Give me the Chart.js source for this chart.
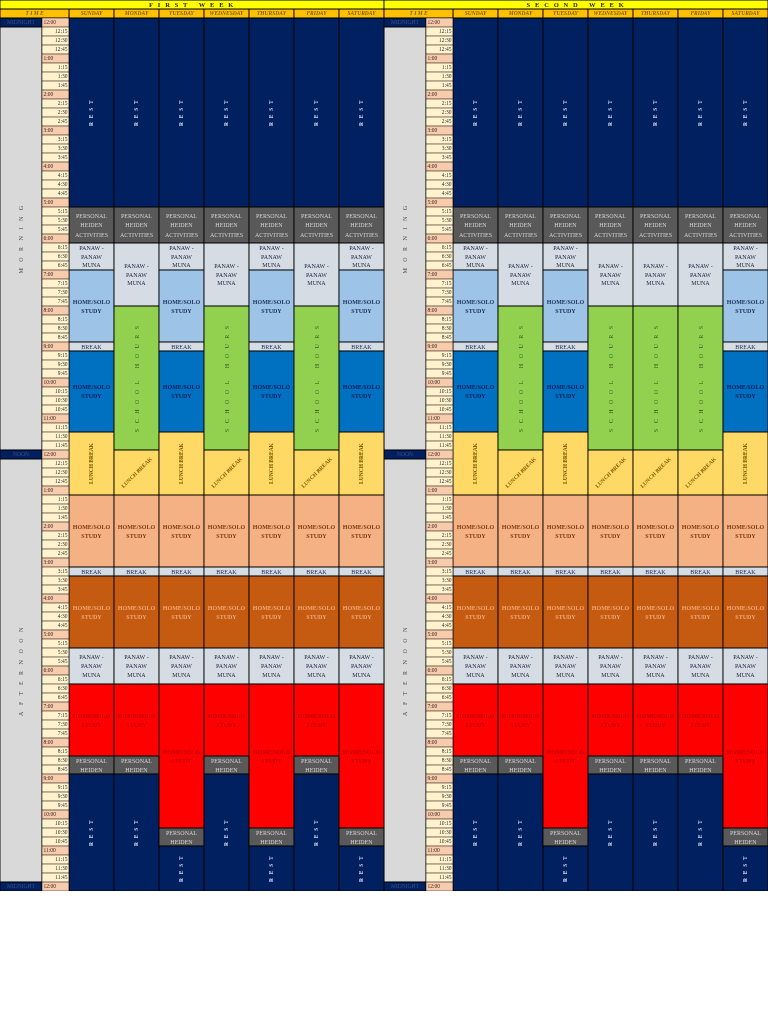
<!DOCTYPE html>
<html>
<head>
<meta charset="utf-8">
<script src="https://cdn.jsdelivr.net/npm/chart.js@4.4.0/dist/chart.umd.min.js"></script>
<style>
  html, body { margin: 0; padding: 0; background: #fff; }
  canvas { display: block; }
</style>
</head>
<body>
<canvas id="timetable" width="768" height="1024"></canvas>
<script>
const weeks = ['F I R S T   W E E K', 'S E C O N D   W E E K'];
const days = ['SUNDAY', 'MONDAY', 'TUESDAY', 'WEDNESDAY', 'THURSDAY', 'FRIDAY', 'SATURDAY'];
const timeLabels = [
  '12:00', '12:15', '12:30', '12:45', '1:00', '1:15', '1:30', '1:45', '2:00', '2:15', '2:30', '2:45',
  '3:00', '3:15', '3:30', '3:45', '4:00', '4:15', '4:30', '4:45', '5:00', '5:15', '5:30', '5:45',
  '6:00', '6:15', '6:30', '6:45', '7:00', '7:15', '7:30', '7:45', '8:00', '8:15', '8:30', '8:45',
  '9:00', '9:15', '9:30', '9:45', '10:00', '10:15', '10:30', '10:45', '11:00', '11:15', '11:30', '11:45',
  '12:00', '12:15', '12:30', '12:45', '1:00', '1:15', '1:30', '1:45', '2:00', '2:15', '2:30', '2:45',
  '3:00', '3:15', '3:30', '3:45', '4:00', '4:15', '4:30', '4:45', '5:00', '5:15', '5:30', '5:45',
  '6:00', '6:15', '6:30', '6:45', '7:00', '7:15', '7:30', '7:45', '8:00', '8:15', '8:30', '8:45',
  '9:00', '9:15', '9:30', '9:45', '10:00', '10:15', '10:30', '10:45', '11:00', '11:15', '11:30', '11:45',
  '12:00'
];

// blocks: [activity, first slot, last slot]  (slot 0 = 12:00 midnight, one slot = 15 min)
const morningHome = [['rest', 0, 20], ['personal', 21, 24], ['panaw', 25, 27], ['study1', 28, 35],
  ['brk', 36, 36], ['study2', 37, 45], ['lunch', 46, 52]];
const morningSchool = [['rest', 0, 20], ['personal', 21, 24], ['panaw', 25, 31], ['school', 32, 47],
  ['lunchTilt', 48, 52]];
const afternoon = [['study3', 53, 60], ['brk', 61, 61], ['study4', 62, 69], ['panaw', 70, 73]];
const eveningShort = [['study5', 74, 81], ['heiden', 82, 83], ['rest', 84, 96]];
const eveningLong = [['study5', 74, 89], ['heiden', 90, 91], ['rest', 92, 96]];

const week1Morning = ['home', 'school', 'home', 'school', 'home', 'school', 'home'];
const week1Evening = ['short', 'short', 'long', 'short', 'long', 'short', 'long'];
const week2Morning = ['home', 'school', 'home', 'school', 'school', 'school', 'home'];
const week2Evening = ['short', 'short', 'long', 'short', 'short', 'short', 'long'];

const sideLabels = [['MIDNIGHT', 0, 0], ['M O R N I N G', 1, 47], ['NOON', 48, 48],
  ['A F T E R N O O N', 49, 95], ['MIDNIGHT', 96, 96]];

const studyText = ['HOME/SOLO', 'STUDY'];
const styles = {
  rest:      { bg: '#002060', fg: '#c5d2ec', lines: ['R E S T'], rotate: -90, size: 5.5, bold: true, spacing: 1.2 },
  personal:  { bg: '#595959', fg: '#cfcfcf', lines: ['PERSONAL', 'HEIDEN', 'ACTIVITIES'], size: 6, gap: 9.5 },
  heiden:    { bg: '#595959', fg: '#cfcfcf', lines: ['PERSONAL', 'HEIDEN'], size: 6, gap: 9 },
  panaw:     { bg: '#d6dce4', fg: '#1f2a44', lines: ['PANAW -', 'PANAW', 'MUNA'], size: 6, gap: 8.7 },
  study1:    { bg: '#9dc3e6', fg: '#1f3864', lines: studyText, size: 6, bold: true, gap: 9 },
  brk:       { bg: '#d6dce4', fg: '#1f3864', lines: ['BREAK'], size: 6 },
  study2:    { bg: '#0070c0', fg: '#002060', lines: studyText, size: 6, bold: true, gap: 9 },
  school:    { bg: '#92d050', fg: '#375623', lines: ['S C H O O L   H O U R S'], rotate: -90, size: 6, spacing: 2 },
  lunch:     { bg: '#ffd966', fg: '#7f6000', lines: ['LUNCH BREAK'], rotate: -90, size: 5.5, bold: true },
  lunchTilt: { bg: '#ffd966', fg: '#7f6000', lines: ['LUNCH BREAK'], rotate: -45, size: 5.5, bold: true },
  study3:    { bg: '#f4b183', fg: '#843c0c', lines: studyText, size: 6, bold: true, gap: 9 },
  study4:    { bg: '#c55a11', fg: '#f1a878', lines: studyText, size: 6, bold: true, gap: 9 },
  study5:    { bg: '#ff0000', fg: '#c00000', lines: studyText, size: 6, bold: true, gap: 9 },
  hour:      { bg: '#f8cbad', fg: '#3a2a20', size: 5.5, align: 'left' },
  quarter:   { bg: '#fff2cc', fg: '#333333', size: 5.5, align: 'right' },
  side:      { bg: '#d9d9d9', fg: '#404040', rotate: -90, size: 6, spacing: 2.5 },
  mark:      { bg: '#002060', fg: '#3c4f80', size: 5.5 },
  week:      { bg: '#ffff00', fg: '#222222', size: 6.5, bold: true, spacing: 1.6 },
  head:      { bg: '#ffc000', fg: '#7f6000', size: 5.5, bold: true, italic: true }
};

// column layout (px)
const COL = { side: 42, time: 27, day: 45 };
const weekWidth = COL.side + COL.time + 7 * COL.day;
const weekLeft = (w) => w * weekWidth;
const sideCenter = (w) => weekLeft(w) + COL.side / 2;
const timeCenter = (w) => weekLeft(w) + COL.side + COL.time / 2;
const dayCenter = (w, d) => weekLeft(w) + COL.side + COL.time + COL.day * (d + 0.5);

const dayCells = [], timeCells = [], sideCells = [], weekCells = [], timeHeadCells = [], dayHeadCells = [];
[[week1Morning, week1Evening], [week2Morning, week2Evening]].forEach(([mor, eve], w) => {
  days.forEach((day, d) => {
    const blocks = [].concat(
      mor[d] === 'home' ? morningHome : morningSchool,
      afternoon,
      eve[d] === 'long' ? eveningLong : eveningShort
    );
    blocks.forEach(([kind, a, b]) => dayCells.push({ x: dayCenter(w, d), y: [a, b + 1], kind }));
    dayHeadCells.push({ x: dayCenter(w, d), y: [-1, 0], kind: 'head', text: day });
  });
  timeLabels.forEach((t, i) => {
    timeCells.push({ x: timeCenter(w), y: [i, i + 1], kind: t.endsWith(':00') ? 'hour' : 'quarter', text: t });
  });
  sideLabels.forEach(([t, a, b]) => {
    sideCells.push({ x: sideCenter(w), y: [a, b + 1], kind: a === b ? 'mark' : 'side', text: t });
  });
  weekCells.push({ x: weekLeft(w) + weekWidth / 2, y: [-2, -1], kind: 'week', text: weeks[w] });
  timeHeadCells.push({ x: weekLeft(w) + (COL.side + COL.time) / 2, y: [-1, 0], kind: 'head', text: 'T I M E' });
});

function makeDataset(data, thickness, border) {
  return {
    data,
    barThickness: thickness,
    grouped: false,
    borderSkipped: false,
    borderColor: '#000',
    borderWidth: border,
    backgroundColor: (ctx) => ctx.raw ? styles[ctx.raw.kind].bg : '#fff'
  };
}

const cellText = {
  id: 'cellText',
  afterDatasetsDraw(chart) {
    const ctx = chart.ctx;
    chart.data.datasets.forEach((ds, di) => {
      chart.getDatasetMeta(di).data.forEach((bar, i) => {
        const cell = ds.data[i];
        const st = styles[cell.kind];
        const lines = cell.text ? [cell.text] : st.lines;
        if (!lines) return;
        const { x, y, base, width } = bar.getProps(['x', 'y', 'base', 'width'], true);
        const cy = (y + base) / 2;
        ctx.save();
        ctx.fillStyle = st.fg;
        ctx.font = (st.italic ? 'italic ' : '') + (st.bold ? 'bold ' : '') + st.size + 'px "Liberation Serif"';
        ctx.letterSpacing = (st.spacing || 0) + 'px';
        ctx.textBaseline = 'middle';
        let tx = x;
        ctx.textAlign = 'center';
        if (st.align === 'left') { ctx.textAlign = 'left'; tx = x - width / 2 + 1.5; }
        if (st.align === 'right') { ctx.textAlign = 'right'; tx = x + width / 2 - 1.5; }
        ctx.translate(tx, cy);
        if (st.rotate) ctx.rotate(st.rotate * Math.PI / 180);
        const gap = st.gap || 9;
        lines.forEach((line, li) => {
          ctx.fillText(line, 0, (li - (lines.length - 1) / 2) * gap + 0.5);
        });
        ctx.restore();
      });
    });
  }
};

new Chart(document.getElementById('timetable'), {
  type: 'bar',
  data: {
    datasets: [
      makeDataset(dayCells, COL.day, 0.8),
      makeDataset(timeCells, COL.time, 0.6),
      makeDataset(sideCells, COL.side, 0.8),
      makeDataset(weekCells, weekWidth, 0.8),
      makeDataset(timeHeadCells, COL.side + COL.time, 0.8),
      makeDataset(dayHeadCells, COL.day, 0.8)
    ]
  },
  options: {
    responsive: false,
    animation: false,
    events: [],
    layout: { padding: { top: 0, left: 0, right: 0, bottom: 133 } },
    scales: {
      x: { type: 'linear', min: 0, max: 2 * weekWidth, offset: false, display: false },
      y: { type: 'linear', min: -2, max: 97, reverse: true, display: false }
    },
    plugins: { legend: { display: false }, tooltip: { enabled: false } }
  },
  plugins: [cellText]
});
</script>
</body>
</html>
